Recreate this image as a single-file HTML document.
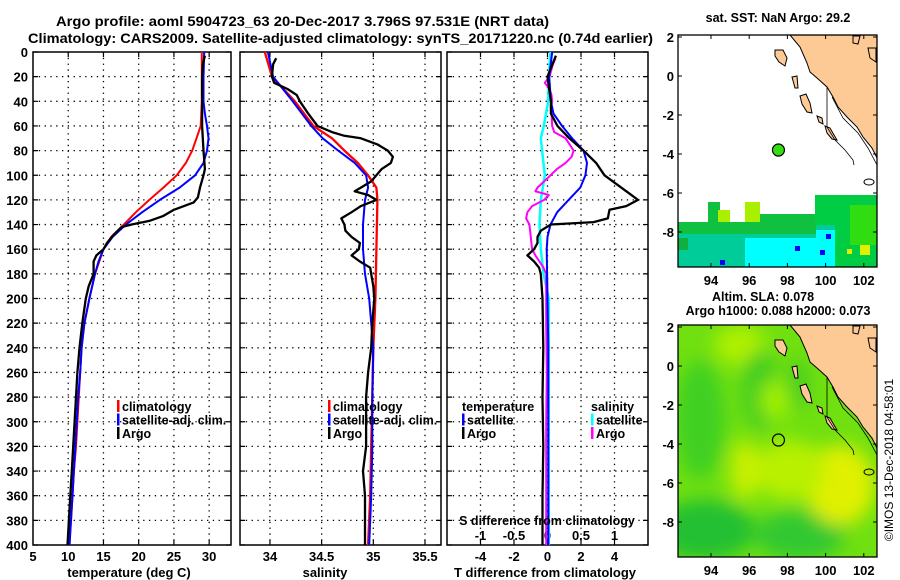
<!DOCTYPE html>
<html><head><meta charset="utf-8">
<style>
html,body{margin:0;padding:0;background:#fff;}
svg{display:block;font-family:"Liberation Sans",sans-serif;font-weight:bold;}
</style></head>
<body>
<svg id="fig" width="900" height="580" viewBox="0 0 900 580" xmlns="http://www.w3.org/2000/svg">
<text x="56" y="26" font-size="14" textLength="493" lengthAdjust="spacingAndGlyphs">Argo profile: aoml 5904723_63 20-Dec-2017 3.796S 97.531E (NRT data)</text>
<text x="28" y="43" font-size="14" textLength="625" lengthAdjust="spacingAndGlyphs">Climatology: CARS2009. Satellite-adjusted climatology: synTS_20171220.nc (0.74d earlier)</text>
<g id="g"></g>
</svg>
<script>
// ---- Data ----
const depthTicks=[0,20,40,60,80,100,120,140,160,180,200,220,240,260,280,300,320,340,360,380,400];
const tTicks=[5,10,15,20,25,30];
const sTicks=[34,34.5,35,35.5];
const dTTicks=[-4,-2,0,2,4];
const dSTicks=[-1,-0.5,0,0.5,1];
const dSTickLabels=["-1","-0.5","0","0.5","1"];
const lonTicks=[94,96,98,100,102];
const latTicks=[2,0,-2,-4,-6,-8];

const climDepth=[0,20,40,60,70,80,90,100,110,120,130,140,150,160,180,200,220,240,260,280,300,320,340,360,380,400];
const climTemp=[28.95,28.95,28.95,28.8,28.2,27.6,26.7,25.4,23.5,21.5,19.6,17.9,16.1,15.0,13.8,13.0,12.3,11.9,11.7,11.5,11.3,11.1,10.8,10.6,10.4,10.1];
const satDepth=[0,20,40,50,60,70,80,90,100,110,120,130,140,150,160,170,180,200,220,240,260,280,300,320,340,360,380,400];
const satTemp=[29.3,29.2,29.2,29.4,29.7,29.9,29.7,29.2,28.0,25.8,23.0,20.5,18.2,16.3,15.0,14.3,13.8,13.0,12.3,11.9,11.7,11.4,11.2,11.0,10.8,10.6,10.4,10.2];
const argoDepth=[3,10,20,40,60,80,95,100,110,118,122,128,133,137,140,142,148,155,160,165,170,180,190,200,220,240,260,280,300,320,340,360,380,400];
const argoTemp=[29.4,29.1,29.0,29.0,29.0,29.2,29.4,29.2,28.7,28.4,27.8,25.0,23.5,21.5,19.0,17.6,16.5,15.5,15.0,14.0,13.6,13.6,12.9,12.5,12.0,11.6,11.3,11.1,10.9,10.7,10.5,10.3,10.1,9.9];

const climSalDepth=[0,20,40,60,70,80,90,100,110,120,160,200,240,280,320,360,400];
const climSal=[33.95,34.02,34.24,34.42,34.60,34.72,34.85,34.95,35.03,35.04,35.03,35.02,35.0,34.99,34.98,34.97,34.95];
const satSalDepth=[0,20,40,60,70,80,90,100,110,120,140,160,180,200,220,240,280,320,360,400];
const satSal=[33.98,34.03,34.22,34.40,34.51,34.66,34.82,34.93,34.95,34.92,34.90,34.90,34.92,34.96,34.98,35.0,34.99,34.99,34.98,34.96];
const argoSalDepth=[5,10,20,25,30,35,40,50,60,65,68,70,75,80,85,90,95,100,105,110,113,116,120,125,130,135,140,145,150,155,160,165,170,175,180,190,200,210,220,240,260,280,300,320,340,360,380,400];
const argoSal=[34.06,34.03,34.02,34.04,34.17,34.26,34.29,34.37,34.46,34.60,34.72,34.88,35.04,35.14,35.19,35.17,35.08,35.03,34.98,34.88,34.82,34.95,35.03,34.88,34.79,34.69,34.72,34.73,34.79,34.87,34.86,34.79,34.87,34.97,34.98,35.0,35.01,35.0,34.99,34.98,34.95,34.93,34.93,34.93,34.90,34.92,34.92,34.92];

const dTSatDepth=[0,20,40,50,60,70,80,90,100,110,120,130,140,150,160,200,240,300,360,400];
const dTSat=[0.28,0.1,0.2,0.36,0.87,1.47,2.15,2.36,2.26,1.96,1.26,0.58,0.18,0.0,-0.05,0.0,0.05,0.05,0.05,0.05];
const dTArgoDepth=[3,20,40,50,60,70,80,90,100,110,115,120,125,128,135,138,140,145,150,155,160,165,170,175,180,200,240,280,320,360,400];
const dTArgo=[0.5,0.0,0.2,0.2,0.6,1.3,2.15,2.9,3.4,4.4,4.9,5.4,4.7,3.7,3.6,2.75,0.2,-0.4,-0.6,-0.6,-0.8,-1.2,-0.8,-0.5,-0.4,-0.3,-0.25,-0.3,-0.25,-0.3,-0.3];
const dSSatDepth=[0,20,40,60,70,80,100,120,140,160,180,200,260,320,400];
const dSSat=[0.045,0.02,0.01,-0.055,-0.1,-0.08,-0.04,-0.1,-0.12,-0.1,-0.06,0.02,0.02,0.02,0.02];
const dSArgoDepth=[5,10,20,25,30,35,40,45,50,60,65,70,75,80,85,90,95,100,105,110,113,116,120,125,130,135,140,145,150,155,160,165,170,175,180,220,260,300,340,400];
const dSArgo=[0.12,0.08,0.03,-0.04,0.03,0.06,0.07,0.05,0.06,0.07,0.1,0.27,0.33,0.39,0.36,0.27,0.14,0.045,-0.05,-0.15,-0.18,0.02,-0.05,-0.23,-0.3,-0.32,-0.27,-0.26,-0.25,-0.24,-0.23,-0.18,-0.12,-0.06,-0.02,-0.02,-0.01,-0.02,-0.02,-0.02];

const floatLon=[97.531];
const floatLat=[-3.796];

// ---- Drawing ----
const NS="http://www.w3.org/2000/svg";
const G=document.getElementById('g');
function mk(tag,attrs,parent){const e=document.createElementNS(NS,tag);for(const k in attrs)e.setAttribute(k,attrs[k]);(parent||G).appendChild(e);return e;}
const Y0=52,Y1=545;
const yD=d=>Y0+(d/400)*(Y1-Y0);

function panel(x0,x1,xmin,xmax,name){
  const sx=v=>x0+(v-xmin)/(xmax-xmin)*(x1-x0);
  const g=mk('g',{});
  
  
  return {sx,g,x0,x1};
}
function grid(p,xt,showY,xlabels,xlabY){
  depthTicks.forEach(d=>{
    if(d>0&&d<400){const l=mk('line',{x1:p.x0,x2:p.x1,y1:yD(d),y2:yD(d),stroke:'#000','stroke-width':1.3,'stroke-dasharray':'1.3,4.5'},p.g);
      }
    const tk=mk('path',{d:'M'+p.x0+','+yD(d)+'h5M'+p.x1+','+yD(d)+'h-5',stroke:'#000','stroke-width':1.2},p.g);
    
    if(showY){const t=mk('text',{x:p.x0-5,y:yD(d)+5,'font-size':13,'text-anchor':'end'},p.g);t.textContent=d;
      }
  });
  xt.forEach((v,i)=>{
    const X=p.sx(v);
    if(X>p.x0+1&&X<p.x1-1){const l=mk('line',{x1:X,x2:X,y1:Y0,y2:Y1,stroke:'#000','stroke-width':1.3,'stroke-dasharray':'1.3,4.5'},p.g);
      
      const tk=mk('path',{d:'M'+X+','+Y0+'v5M'+X+','+Y1+'v-5',stroke:'#000','stroke-width':1.2},p.g);
      }
    if(xlabels){const t=mk('text',{x:X,y:xlabY,'font-size':13,'text-anchor':'middle'},p.g);t.textContent=xlabels[i];
      }
  });
  const r=mk('rect',{x:p.x0,y:Y0,width:p.x1-p.x0,height:Y1-Y0,fill:'none',stroke:'#000','stroke-width':1.5},p.g);
  
}
function line(p,xs,ds,color,w,name){
  const pts=xs.map((v,i)=>p.sx(v).toFixed(1)+','+yD(ds[i]).toFixed(1)).join(' ');
  const l=mk('polyline',{points:pts,fill:'none',stroke:color,'stroke-width':w,'stroke-linejoin':'round'},p.g);
  
}
function legend(p,x,items){
  items.forEach((it,i)=>{
    const y=407+i*13.5;
    if(it.c){const b=mk('rect',{x:x,y:y-7,width:2.5,height:12,fill:it.c},p.g);
      }
    const t=mk('text',{x:x+(it.c?5:0),y:y+4,'font-size':12.5},p.g);t.textContent=it.t;
    
  });
}
function label(x,y,txt,name,size){const t=mk('text',{x:x,y:y,'font-size':size||13,'text-anchor':'middle'});t.textContent=txt;
  }

// Panel 1 temperature
const p1=panel(33,231,5,33.1,'temperature-panel');
grid(p1,tTicks,true,tTicks.map(String),561);
line(p1,climTemp,climDepth,'#f00',2,'climatology-temp-line');
line(p1,satTemp,satDepth,'#00f',2,'satellite-temp-line');
line(p1,argoTemp,argoDepth,'#000',2.3,'argo-temp-line');
legend(p1,117,[{c:'#f00',t:'climatology'},{c:'#00f',t:'satellite-adj. clim.'},{c:'#000',t:'Argo'}]);
label(129,577,'temperature (deg C)','x-axis-title-temperature');

// Panel 2 salinity
const p2=panel(240,441,33.71,35.655,'salinity-panel');
grid(p2,sTicks,false,sTicks.map(String),561);
line(p2,climSal,climSalDepth,'#f00',2.3,'climatology-salinity-line');
line(p2,satSal,satSalDepth,'#00f',2,'satellite-salinity-line');
line(p2,argoSal,argoSalDepth,'#000',2.3,'argo-salinity-line');
legend(p2,328,[{c:'#f00',t:'climatology'},{c:'#00f',t:'satellite-adj. clim.'},{c:'#000',t:'Argo'}]);
label(325,577,'salinity','x-axis-title-salinity');

// Panel 3 differences
const p3=panel(447,648,-6,6,'difference-panel');
grid(p3,dTTicks,false,dTTicks.map(String),561);
const p3s={sx:s=>p3.sx(s*4),g:p3.g,x0:p3.x0,x1:p3.x1};
dSTicks.forEach((v,i)=>{const t=mk('text',{x:p3s.sx(v),y:540,'font-size':13,'text-anchor':'middle'},p3.g);t.textContent=dSTickLabels[i];
  });
label(547,525,'S difference from climatology','s-diff-axis-title',12.5);
line(p3s,dSSat,dSSatDepth,'#0ff',2.5,'satellite-salinity-diff-line');
line(p3s,dSArgo,dSArgoDepth,'#f0f',2,'argo-salinity-diff-line');
line(p3,dTSat,dTSatDepth,'#00f',2,'satellite-temp-diff-line');
line(p3,dTArgo,dTArgoDepth,'#000',2.3,'argo-temp-diff-line');
legend(p3,462,[{c:null,t:'temperature'},{c:'#00f',t:'satellite'},{c:'#000',t:'Argo'}]);
legend(p3,591,[{c:null,t:'salinity'},{c:'#0ff',t:'satellite'},{c:'#f0f',t:'Argo'}]);
label(545,577,'T difference from climatology','x-axis-title-diff');

// ---- Maps ----
const MX0=678,MX1=877;
const lonX=lon=>711+(lon-94)*19.1;
function latY(lat,off){return 37+off+(2-lat)*19.5;}
function map(off,name,field){
  const MY0=35+off,MY1=267+off;
  const g=mk('g',{});
  const cid='clip'+off;
  const cp=mk('clipPath',{id:cid},g);mk('rect',{x:MX0,y:MY0,width:MX1-MX0,height:MY1-MY0},cp);
  const inner=mk('g',{'clip-path':'url(#'+cid+')'},g);
  field(inner,MY0,MY1);
  const coast=[[790,35],[800,47],[807,63],[810,72],[817,78],[827,87],[833,97],[838,107],[847,117],[857,127],[863,137],[872,148],[877,158],[880,158],[880,30]];
  const land=mk('polygon',{points:coast.map(c=>c[0]+','+(c[1]+off)).join(' '),fill:'#fdc995',stroke:'#000','stroke-width':1},inner);
  
  const isl=[[[775,50],[783,50],[787,58],[785,66],[779,62],[775,56]],[[800,96],[806,94],[810,103],[812,113],[807,112],[802,104]],[[817,116],[822,118],[823,124],[819,122]],[[825,126],[830,128],[834,135],[837,140],[832,139],[827,133]],[[792,77],[797,76],[798,88],[795,88]],[[853,36],[860,36],[858,44],[853,43]],[[868,48],[876,48],[876,62],[870,58]]];
  isl.forEach(pp=>{const e=mk('polygon',{points:pp.map(c=>c[0]+','+(c[1]+off)).join(' '),fill:'#fdc995',stroke:'#000','stroke-width':1},inner);
    });
  const c1=mk('polyline',{points:[[827,87],[827,127],[835,140],[845,150],[853,160],[854,165]].map(c=>c[0]+','+(c[1]+off)).join(' '),fill:'none',stroke:'#000','stroke-width':0.8},inner);
  
  const c2=mk('polyline',{points:[[832,97],[843,118],[858,133],[868,148],[877,165]].map(c=>c[0]+','+(c[1]+off)).join(' '),fill:'none',stroke:'#000','stroke-width':0.8},inner);
  
  const c3=mk('ellipse',{cx:869,cy:182+off,rx:5,ry:3,fill:'none',stroke:'#000','stroke-width':1},inner);
  
  const fr=mk('rect',{x:MX0,y:MY0,width:MX1-MX0,height:MY1-MY0,fill:'none',stroke:'#000','stroke-width':1.3},g);
  
  latTicks.forEach(l=>{const t=mk('text',{x:MX0-4,y:latY(l,off)+5,'font-size':13,'text-anchor':'end'},g);t.textContent=l;
    
    const tk=mk('path',{d:'M'+MX0+','+latY(l,off)+'h4M'+MX1+','+latY(l,off)+'h-4',stroke:'#000','stroke-width':1},g);
    });
  lonTicks.forEach(l=>{const t=mk('text',{x:lonX(l),y:MY1+18,'font-size':13,'text-anchor':'middle'},g);t.textContent=l;
    
    const tk=mk('path',{d:'M'+lonX(l)+','+MY0+'v4M'+lonX(l)+','+MY1+'v-4',stroke:'#000','stroke-width':1},g);
    });
  return g;
}
map(0,'sst-map',(g,y0,y1)=>{
  mk('rect',{x:MX0,y:y0,width:MX1-MX0,height:y1-y0,fill:'#fff'},g);
  const r=(x,y,w,h,c)=>{const e=mk('rect',{x:x,y:y,width:w,height:h,fill:c},g);};
  r(678,222,199,45,'#00cc99');
  r(678,222,138,12,'#10c040');
  r(708,202,12,20,'#10c040');
  r(718,210,12,12,'#a8f000');
  r(745,202,15,20,'#a8f000');
  r(760,214,80,10,'#10c040');
  r(745,238,90,29,'#00ffff');
  r(816,230,20,10,'#00ffff');
  r(835,195,42,72,'#00cc44');
  r(815,195,20,30,'#00cc44');
  r(850,205,27,40,'#30dd10');
  r(860,245,10,10,'#e0f000');
  r(847,249,5,5,'#e0f000');
  r(826,234,5,5,'#0000ff');r(795,246,5,5,'#0000ff');r(820,250,5,5,'#0000ff');r(720,260,5,5,'#0000ff');
  r(678,238,10,12,'#10b040');
});
map(290,'sla-map',(g,y0,y1)=>{
  const defs=mk('defs',{},g);
  const f=mk('filter',{id:'bl',x:'-50%',y:'-50%',width:'200%',height:'200%'},defs);mk('feGaussianBlur',{stdDeviation:9},f);
  mk('rect',{x:MX0,y:y0,width:MX1-MX0,height:y1-y0,fill:'#70e010'},g);
  const b=mk('g',{filter:'url(#bl)'},g);
  const e=(cx,cy,rx,ry,c)=>{mk('ellipse',{cx:cx,cy:cy,rx:rx,ry:ry,fill:c},b);};
  e(740,345,25,20,'#b0f000');
  e(700,420,25,60,'#40d020');
  e(760,390,18,40,'#40cc20');
  e(705,530,50,30,'#20c030');
  e(800,535,45,25,'#30c830');
  e(840,485,35,40,'#e0f000');
  e(790,470,35,30,'#b8f000');
  e(745,470,15,30,'#c8f000');
  e(798,385,10,25,'#40cc20');
  e(775,400,15,20,'#a0f000');
});
floatLon.forEach((lo,i)=>{
  const c=mk('circle',{cx:lonX(lo),cy:latY(floatLat[i],0),r:6,fill:'#33dd11',stroke:'#000','stroke-width':1.2});
  
  const c2=mk('circle',{cx:lonX(lo),cy:latY(floatLat[i],290),r:6,fill:'none',stroke:'#000','stroke-width':1.2});
  
});
label(778,22,'sat. SST: NaN Argo: 29.2','sst-map-title',12.5);
label(763,301,'Altim. SLA: 0.078','sla-map-title',12.5);
label(778,315,'Argo h1000: 0.088 h2000: 0.073','sla-map-subtitle',12.5);
const cr=mk('text',{x:0,y:0,'font-size':12,'font-weight':'normal','text-anchor':'middle',transform:'translate(893,460) rotate(-90)'});
cr.textContent='©IMOS 13-Dec-2018 04:58:01';

</script>
</body></html>
